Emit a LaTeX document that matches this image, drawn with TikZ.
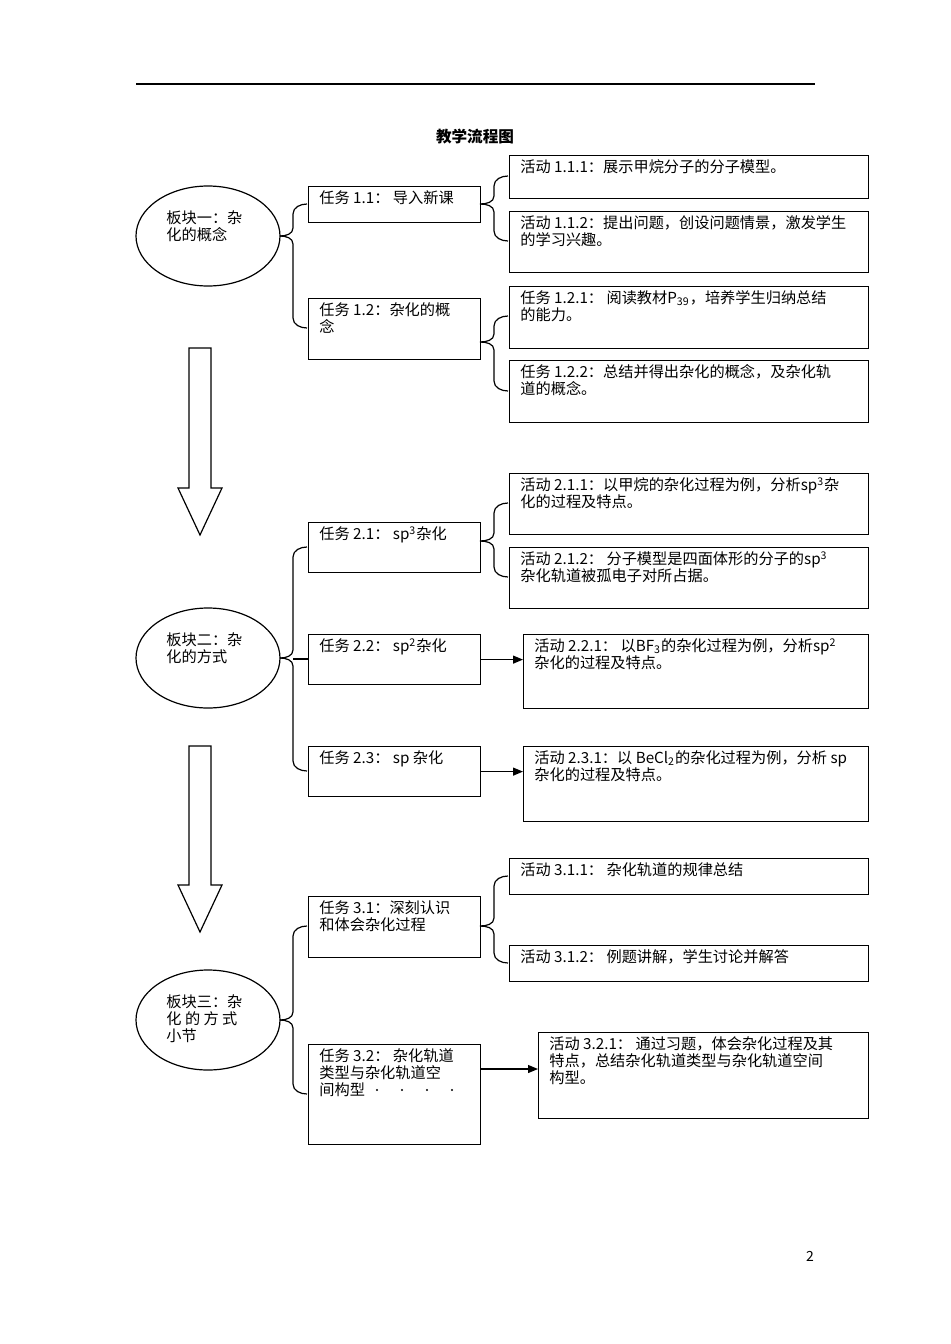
\documentclass[tikz,border=0pt]{standalone}
\usepackage{fontspec}
\setmainfont{Noto Sans CJK SC}
\usetikzlibrary{shapes.geometric,arrows.meta}
\newcommand\mybx[6]{%
 \node[draw,line width=0.6pt,inner sep=0pt,minimum width={(#4-#2)*0.5pt},minimum height={(#5-#3)*0.5pt},anchor=north west] (#1) at (#2,#3) {};
 \node[txt] at ([xshift=5.5pt,yshift=-2pt]#1.north west) {#6};}
\newcommand\myel[4]{%
 \node[draw,ellipse,line width=0.6pt,minimum width=72pt,minimum height=50pt] (#1) at (#2,#3) {};
 \node[txt] at (166,#3-26) {#4};}
% brace: parent east point, x, top y, bottom y, tip y
\newcommand\mybrace[5]{%
 \draw[line width=0.6pt] (#2+14,#3) to[out=180,in=90] (#2,#3+10) -- (#2,#5-8) to[out=-90,in=0] (#1);
 \draw[line width=0.6pt] (#2+14,#4) to[out=180,in=-90] (#2,#4-10) -- (#2,#5+8) to[out=90,in=0] (#1);}
\newcommand\bigarrow[2]{%
 \draw[line width=0.6pt,fill=white] (189,#1) -- (211,#1) -- (211,#2) -- (222,#2) -- (200,#2+47) -- (178,#2) -- (189,#2) -- cycle;}
\tikzset{txt/.style={anchor=north west,align=left,inner sep=0pt,font=\fontsize{7.6}{8.6}\selectfont},
 arr/.style={-{Triangle[length=5pt,width=4pt]},line width=0.6pt}}
\begin{document}
\begin{tikzpicture}[x=0.5pt,y=-0.5pt]
\useasboundingbox (0,0) rectangle (950,1344);
\draw[line width=0.6pt] (136,84) -- (815,84);
\node[font=\fontsize{7.8}{9}\selectfont\bfseries] (title) at (475,137) {教学流程图};
\node[font=\fontsize{7}{8}\selectfont] (pg) at (810,1256) {2};
% block 1
\myel{e1}{208}{236}{板块一：杂\\化的概念}
\mybx{t11}{308}{186}{480}{222}{任务 1.1：  导入新课}
\mybx{t12}{308}{298}{480}{359}{任务 1.2：杂化的概\\念}
\mybx{a111}{509}{155}{868}{198}{活动 1.1.1：展示甲烷分子的分子模型。}
\mybx{a112}{509}{211}{868}{272}{活动 1.1.2：提出问题，创设问题情景，激发学生\\的学习兴趣。}
\mybx{a121}{509}{286}{868}{348}{任务 1.2.1：  阅读教材P\textsubscript{39}，培养学生归纳总结\\的能力。}
\mybx{a122}{509}{360}{868}{422}{任务 1.2.2：总结并得出杂化的概念，及杂化轨\\道的概念。}
\coordinate (b1) at (280,236);
\mybrace{b1}{293}{204}{328}{236}
\coordinate (b11) at (480,204);
\mybrace{b11}{494}{176}{241}{204}
\coordinate (b12) at (480,342);
\mybrace{b12}{494}{316}{391}{342}
\bigarrow{348}{488}
% block 2
\myel{e2}{208}{658}{板块二：杂\\化的方式}
\mybx{t21}{308}{522}{480}{572}{任务 2.1：  sp\textsuperscript{3}杂化}
\mybx{t22}{308}{634}{480}{684}{任务 2.2：  sp\textsuperscript{2}杂化}
\mybx{t23}{308}{746}{480}{796}{任务 2.3：  sp 杂化}
\mybx{a211}{509}{473}{868}{534}{活动 2.1.1：以甲烷的杂化过程为例，分析sp\textsuperscript{3}杂\\化的过程及特点。}
\mybx{a212}{509}{547}{868}{608}{活动 2.1.2：  分子模型是四面体形的分子的sp\textsuperscript{3}\\杂化轨道被孤电子对所占据。}
\mybx{a221}{523}{634}{868}{708}{活动 2.2.1：  以BF\textsubscript{3}的杂化过程为例，分析sp\textsuperscript{2}\\杂化的过程及特点。}
\mybx{a231}{523}{746}{868}{821}{活动 2.3.1：以 BeCl\textsubscript{2}的杂化过程为例，分析 sp\\杂化的过程及特点。}
\coordinate (b2) at (280,658);
\mybrace{b2}{293}{547}{771}{658}
\draw[line width=0.6pt] (293,659) -- (308,659);
\coordinate (b21) at (480,541);
\mybrace{b21}{494}{503}{577}{541}
\draw[arr] (t22.east) -- (a221.west |- t22.east);
\draw[arr] (t23.east) -- (a231.west |- t23.east);
\bigarrow{746}{885}
% block 3
\myel{e3}{208}{1020}{板块三：杂\\化 的 方 式\\小节}
\mybx{t31}{308}{896}{480}{957}{任务 3.1：深刻认识\\和体会杂化过程}
\mybx{t32}{308}{1044}{480}{1144}{任务 3.2：  杂化轨道\\类型与杂化轨道空\\间构型}
\mybx{a311}{509}{858}{868}{894}{活动 3.1.1：  杂化轨道的规律总结}
\mybx{a312}{509}{945}{868}{981}{活动 3.1.2：  例题讲解，学生讨论并解答}
\mybx{a321}{538}{1032}{868}{1118}{活动 3.2.1：  通过习题，体会杂化过程及其\\特点，总结杂化轨道类型与杂化轨道空间\\构型。}
\coordinate (b3) at (280,1020);
\mybrace{b3}{293}{926}{1094}{1020}
\coordinate (b31) at (480,926);
\mybrace{b31}{494}{876}{963}{926}
\draw[arr] (480,1069) -- (a321.west |- 0,1069);
\foreach \xx in {377,402,427,452} \fill (\xx,1090) circle (0.6pt);
\end{tikzpicture}
\end{document}
